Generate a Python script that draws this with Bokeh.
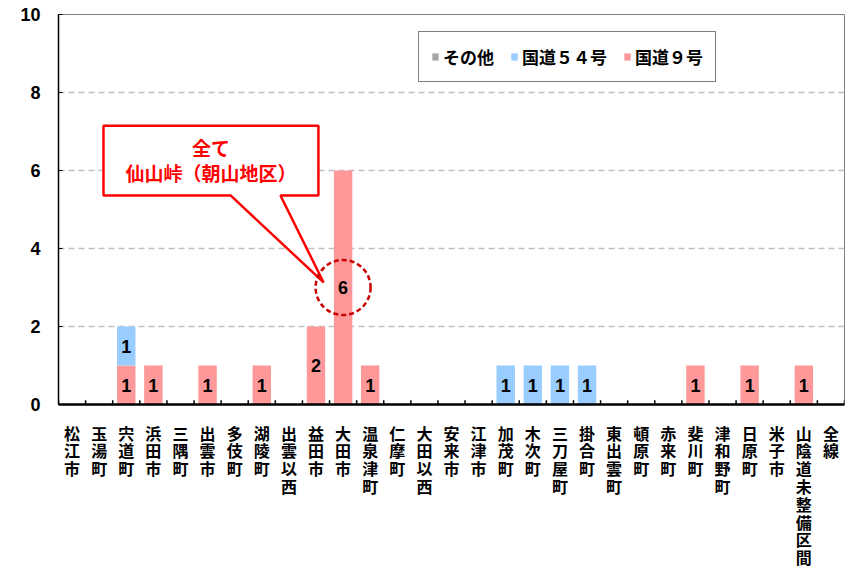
from bokeh.plotting import figure
from bokeh.layouts import column
from bokeh.models import Range1d, FixedTicker, LinearAxis, ColumnDataSource, Legend, LegendItem
from bokeh.core.properties import value
from bokeh.embed import file_html
from bokeh.resources import INLINE

categories = ["松江市", "玉湯町", "宍道町", "浜田市", "三隅町", "出雲市", "多伎町", "湖陵町",
              "出雲以西", "益田市", "大田市", "温泉津町", "仁摩町", "大田以西", "安来市", "江津市",
              "加茂町", "木次町", "三刀屋町", "掛合町", "東出雲町", "頓原町", "赤来町", "斐川町",
              "津和野町", "日原町", "米子市", "山陰道未整備区間", "全線"]
route9 = [0, 0, 1, 1, 0, 1, 0, 1, 0, 2, 6, 1, 0, 0, 0, 0,
          0, 0, 0, 0, 0, 0, 0, 1, 0, 1, 0, 1, 0]
route54 = [0, 0, 1, 0, 0, 0, 0, 0, 0, 0, 0, 0, 0, 0, 0, 0,
           1, 1, 1, 1, 0, 0, 0, 0, 0, 0, 0, 0, 0]
other = [0, 0, 0, 0, 0, 0, 0, 0, 0, 0, 0, 0, 0, 0, 0, 0,
         0, 0, 0, 0, 0, 0, 0, 0, 0, 0, 0, 0, 0]
series_names = ["国道９号", "国道５４号", "その他"]
series_colors = ["#FF9999", "#99CCFF", "#A6A6A6"]
y_ticks = [0, 2, 4, 6, 8, 10]
callout_target = "大田市"
callout_lines = ["全て", "仙山峠（朝山地区）"]

JP = "Noto Sans CJK JP"
n = len(categories)
xs = list(range(n))

TOP_H = 416
p = figure(width=845, height=TOP_H, output_backend="svg", toolbar_location=None,
           x_range=Range1d(-0.5, n - 0.5), y_range=Range1d(0, 10),
           min_border_left=58, min_border_right=1, min_border_top=14, min_border_bottom=12,
           x_axis_type=None)
p.outline_line_color = "#808080"
p.outline_line_width = 1
p.background_fill_color = "white"
p.border_fill_color = "white"

src = ColumnDataSource(dict(x=xs, r9=route9, r54=route54, oth=other))
rs = p.vbar_stack(["r9", "r54", "oth"], x="x", width=0.68, source=src,
                  color=series_colors, line_color=None)

# category boundary tick marks (pointing into the plot)
bounds = [i - 0.5 for i in range(n + 1)]
p.segment(x0=bounds, y0=[0] * len(bounds), x1=bounds, y1=[0.11] * len(bounds),
          line_color="black", line_width=1.5)

# value labels
lx, ly, lt = [], [], []
for i in range(n):
    base = 0
    for arr in (route9, route54, other):
        v = arr[i]
        if v:
            lx.append(i); ly.append(base + v / 2); lt.append(str(v))
        base += v
p.text(x=lx, y=ly, text=lt, text_align="center", text_baseline="middle",
       text_font=value("Liberation Sans"), text_font_style="bold",
       text_font_size="18px", text_color="black")

# axes
p.yaxis.ticker = FixedTicker(ticks=y_ticks)
p.yaxis.major_label_text_font = "Liberation Sans"
p.yaxis.major_label_text_font_style = "bold"
p.yaxis.major_label_text_font_size = "18px"
p.yaxis.major_label_text_color = "black"
p.yaxis.major_tick_in = 4
p.yaxis.major_tick_out = 0
p.yaxis.minor_tick_line_color = None
p.yaxis.axis_line_width = 1.5
p.yaxis.axis_line_color = "black"
p.yaxis.major_tick_line_color = "black"
p.yaxis.major_label_standoff = 18

p.ygrid.ticker = FixedTicker(ticks=y_ticks[1:-1])
p.ygrid.grid_line_color = "#BFBFBF"
p.ygrid.grid_line_dash = "6 4"
p.ygrid.grid_line_width = 1.5
p.xgrid.grid_line_color = None

base_axis = LinearAxis(ticker=FixedTicker(ticks=[]))
base_axis.axis_line_color = "black"
base_axis.axis_line_width = 2.5
base_axis.major_tick_line_color = None
base_axis.minor_tick_line_color = None
base_axis.major_label_standoff = 0
p.add_layout(base_axis, "below")

# callout
k = categories.index(callout_target)
top_val = route9[k] + route54[k] + other[k]
cy = top_val / 2
bx0, bx1 = k - 8.84, k - 0.91
by0, by1 = cy + 2.36, cy + 4.15
px0, px1 = k - 4.15, k - 2.31
tipx, tipy = k - 0.72, cy + 0.13
p.patch(x=[bx0, bx1, bx1, px1, tipx, px0, bx0],
        y=[by1, by1, by0, by0, tipy, by0, by0],
        fill_color="white", line_color="#FF0000", line_width=2.5)
midx = (bx0 + bx1) / 2
p.text(x=[midx, midx], y=[cy + 3.59, cy + 2.95], text=callout_lines,
       text_align="center", text_baseline="middle",
       text_font=value(JP), text_font_style="bold", text_font_size="19px",
       text_color="#FF0000")
p.scatter(x=[k], y=[cy], marker="circle", size=55, fill_color=None,
          line_color="#CC0000", line_width=2.5, line_dash="5 3")

legend = Legend(items=[LegendItem(label=series_names[2], renderers=[rs[2]]),
                       LegendItem(label=series_names[1], renderers=[rs[1]]),
                       LegendItem(label=series_names[0], renderers=[rs[0]])],
                orientation="horizontal", location=(360, 322))
legend.glyph_width = 8
legend.glyph_height = 9
legend.label_standoff = 4
legend.spacing = 16
legend.padding = 12
legend.margin = 0
legend.border_line_color = "black"
legend.border_line_width = 1.5
legend.label_text_font = JP
legend.label_text_font_style = "bold"
legend.label_text_font_size = "17px"
legend.label_text_color = "black"
legend.background_fill_alpha = 1
p.add_layout(legend, "center")

# vertical category labels (one character per row), sharing the x scale
LAB_H = 572 - TOP_H
pl = figure(width=845, height=LAB_H, output_backend="svg", toolbar_location=None,
            x_range=p.x_range, y_range=Range1d(0, LAB_H),
            min_border_left=58, min_border_right=1, min_border_top=0, min_border_bottom=0,
            x_axis_type=None, y_axis_type=None)
pl.outline_line_color = None
pl.xgrid.grid_line_color = None
pl.ygrid.grid_line_color = None
first_row = LAB_H - 16
pitch = 17.8
cx, cyy, ct = [], [], []
for i, name in enumerate(categories):
    for j, ch in enumerate(name):
        cx.append(i); cyy.append(first_row - j * pitch); ct.append(ch)
pl.text(x=cx, y=cyy, text=ct, text_align="center", text_baseline="middle",
        text_font=value(JP), text_font_style="bold", text_font_size="16px",
        text_color="black")

layout = column(p, pl, spacing=0)
open("out.html", "w").write(file_html(layout, INLINE))
